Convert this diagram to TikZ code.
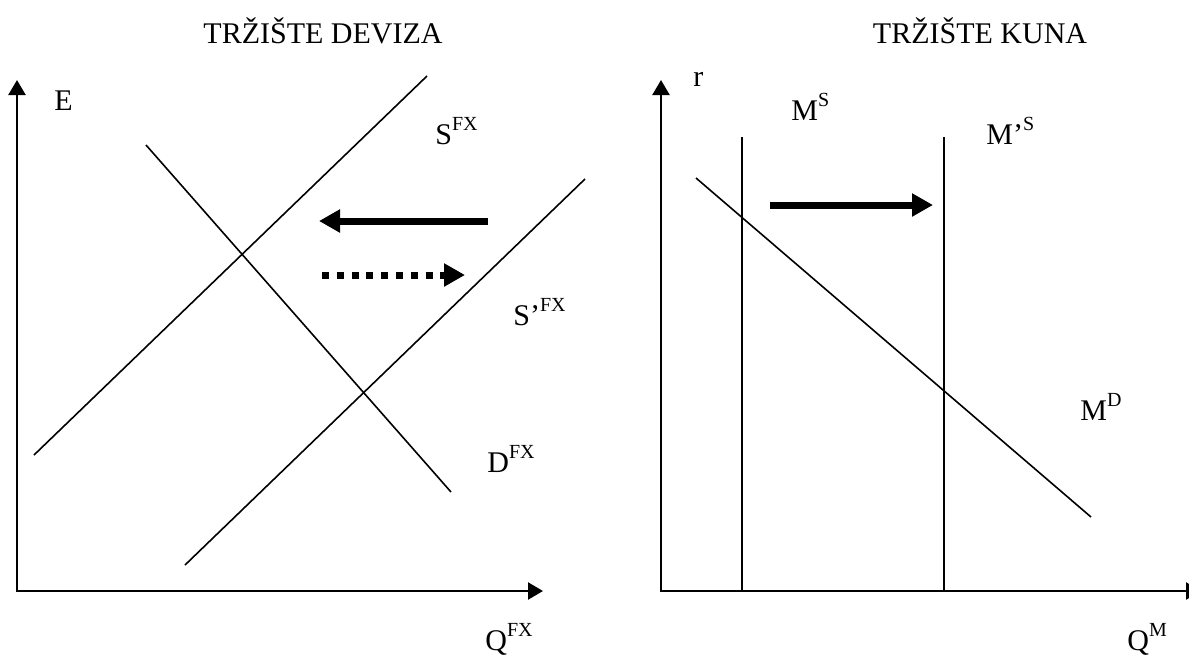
\documentclass[tikz,border=0pt]{standalone}
\usepackage{fontspec}
\setmainfont{Liberation Serif}
\usetikzlibrary{arrows.meta, positioning}

\newcommand{\sups}[1]{\raisebox{7pt}{\fontsize{10}{10}\selectfont #1}}

\begin{document}
\begin{tikzpicture}[x=0.5pt, y=-0.5pt, font=\fontsize{15}{18}\selectfont,
        every node/.style={inner sep=0pt, anchor=base west},
        axis/.style={line width=1.15pt, {Triangle[length=7.5pt, width=8.5pt]}-{Triangle[length=7.5pt, width=8.5pt]}},
        curve/.style={line width=0.8pt},
        shiftarrow/.style={line width=3.5pt, -{Triangle[length=10.5pt, width=11pt]}}]
        \clip (0,0) rectangle (1189,655);

        % trziste deviza
        \node[anchor=base] (titleFX) at (323,43) {TRŽIŠTE DEVIZA};
        \draw[axis] (17,80) -- (17,591) -- (543,591);
        \node (E) at (54,110) {E};
        \node (QFX) at (485,650) {Q\sups{FX}};

        \draw[curve] (34,455) -- (427,76);
        \draw[curve] (185,565) -- (585,179);
        \draw[curve] (146,145) -- (451,492);
        \node (SFX) at (435,144) {S\sups{FX}};
        \node (SFXnew) at (513,325) {S’\sups{FX}};
        \node (DFX) at (487,472) {D\sups{FX}};

        \draw[shiftarrow] (488,221) -- (319,221);
        \draw[shiftarrow, dash pattern=on 3.5pt off 3.9pt] (322,275) -- (465,275);

        % trziste kuna
        \node[anchor=base] (titleM) at (980,43) {TRŽIŠTE KUNA};
        \draw[axis] (661,80) -- (661,591) -- (1201,591);
        \node (r) at (693,86) {r};
        \node (QM) at (1127,650) {Q\sups{M}};

        \draw[curve] (742,137) -- (742,591);
        \draw[curve] (944,137) -- (944,591);
        \draw[curve] (696,178) -- (1091,517);
        \node (MS) at (791,120) {M\sups{S}};
        \node (MSnew) at (986,144) {M’\sups{S}};
        \node (MD) at (1080,420) {M\sups{D}};

        \draw[shiftarrow] (770,205) -- (933,205);
\end{tikzpicture}
\end{document}
